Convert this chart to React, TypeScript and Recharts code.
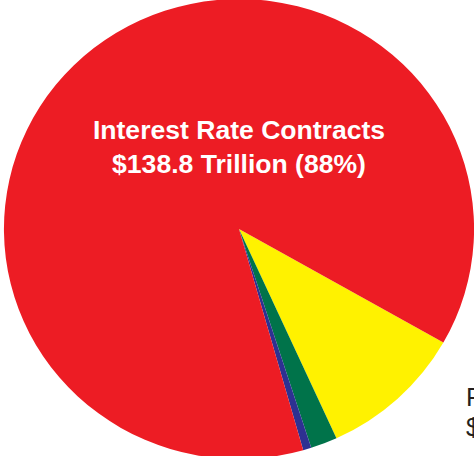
import React from 'react';
import { PieChart, Pie, Cell } from 'recharts';

const categories = [
  'Foreign Exchange Contracts',
  'Credit Derivatives',
  'Equity, Commodity & Other',
  'Interest Rate Contracts',
];
const values = [15.8, 2.9, 0.9, 138.8];
const amountLabels = [
  '$15.8 Trillion (10%)',
  '$2.9 Trillion (2%)',
  '$0.9 Trillion (1%)',
  '$138.8 Trillion (88%)',
];
const colors = ['#FFF200', '#00734A', '#2E3192', '#ED1C24'];

const data = categories.map((name, i) => ({ name, value: values[i], amount: amountLabels[i] }));

const FONT = '"Liberation Sans", Arial, Helvetica, sans-serif';

const renderLabel = (props: any) => {
  const { cx, cy, index } = props;
  if (index === 3) {
    return (
      <text
        x={cx}
        y={cy - 90}
        textAnchor="middle"
        fill="#FFFFFF"
        fontFamily={FONT}
        fontWeight="bold"
        fontSize={26}
      >
        <tspan x={cx} dy={0}>{categories[3]}</tspan>
        <tspan x={cx} dy={34}>{amountLabels[3]}</tspan>
      </text>
    );
  }
  if (index === 0) {
    return (
      <text x={cx + 222} y={cy + 177} textAnchor="start" fill="#231F20" fontFamily={FONT} fontSize={25}>
        <tspan x={cx + 222} dy={0}>{categories[0]}</tspan>
        <tspan x={cx + 222} dy={30}>{amountLabels[0]}</tspan>
      </text>
    );
  }
  return null;
};

export default function App() {
  return (
    <div
      style={{
        position: 'absolute',
        left: 0,
        top: 0,
        width: 474,
        height: 456,
        overflow: 'hidden',
        background: '#FFFFFF',
      }}
    >
      <div style={{ transform: 'scaleX(1.022)', transformOrigin: '239px 229px', width: 474, height: 456 }}>
        <PieChart width={474} height={456} margin={{ top: 0, right: 0, bottom: 0, left: 0 }}>
          <Pie
            data={data}
            dataKey="value"
            nameKey="name"
            cx={239}
            cy={229}
            innerRadius={0}
            outerRadius={230}
            startAngle={-29.6}
            endAngle={-389.6}
            stroke="none"
            label={renderLabel}
            labelLine={false}
            isAnimationActive={false}
          >
            {data.map((d, i) => (
              <Cell key={d.name} fill={colors[i]} stroke="none" />
            ))}
          </Pie>
        </PieChart>
      </div>
    </div>
  );
}
